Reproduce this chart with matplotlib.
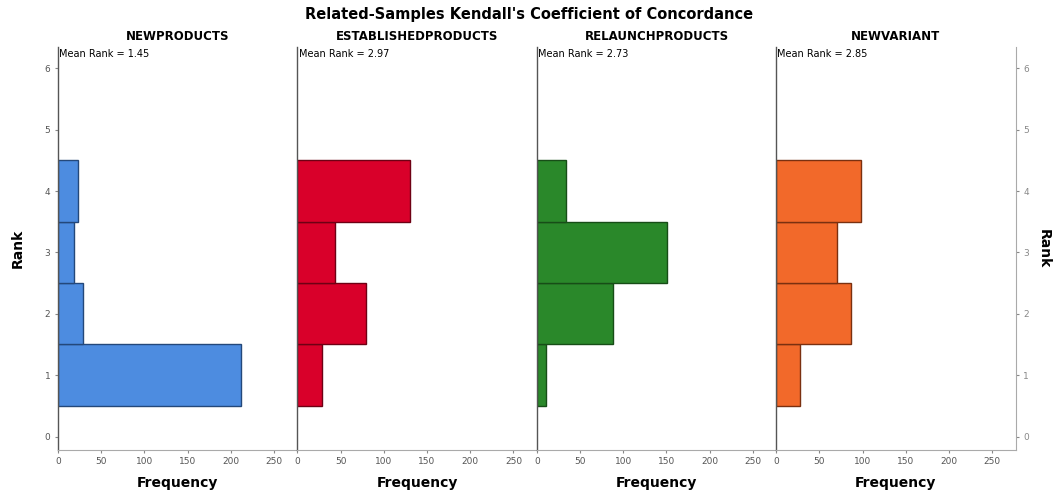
import matplotlib as mpl

mpl.use("Agg")
import matplotlib.pyplot as plt

# ranks 1..4 and frequency of each rank per variable
ranks = [1, 2, 3, 4]
panel_names = ["NEWPRODUCTS", "ESTABLISHEDPRODUCTS", "RELAUNCHPRODUCTS", "NEWVARIANT"]
mean_ranks = ["1.45", "2.97", "2.73", "2.85"]
freq_new = [212, 29, 19, 23]
freq_established = [29, 79, 43, 130]
freq_relaunch = [11, 88, 151, 34]
freq_variant = [27, 87, 70, 98]
bar_colors = ["#4d8ce0", "#d9002a", "#2a882a", "#f2692a"]
edge_colors = ["#24487a", "#6e0014", "#174d17", "#7a3010"]
x_ticks = [0, 50, 100, 150, 200, 250]
y_ticks = [0, 1, 2, 3, 4, 5, 6]

all_freqs = [freq_new, freq_established, freq_relaunch, freq_variant]

fig = plt.figure(figsize=(10.59, 5), dpi=100)
left, right, bottom, top = 0.0548, 0.959, 0.10, 0.906
w = (right - left) / 4

for i in range(4):
    ax = fig.add_axes([left + i * w, bottom, w, top - bottom])
    ax.barh(ranks, all_freqs[i], height=1.0, color=bar_colors[i],
            edgecolor=edge_colors[i], linewidth=1.0, zorder=2)
    ax.set_xlim(0, 277)
    ax.set_ylim(-0.22, 6.35)
    ax.set_xticks(x_ticks)
    ax.set_yticks(y_ticks)
    ax.tick_params(axis="x", labelsize=6.5, colors="#888888", length=2, pad=3)
    ax.tick_params(axis="y", labelsize=6.5, colors="#888888", length=2)
    for t in ax.get_xticklabels():
        t.set_color("#555555")
    for t in ax.get_yticklabels():
        t.set_color("#555555")
    ax.spines["top"].set_visible(False)
    ax.spines["left"].set_color("#555555")
    ax.spines["left"].set_linewidth(1.0)
    ax.spines["bottom"].set_color("#aaaaaa")
    ax.spines["bottom"].set_linewidth(0.8)
    if i == 3:
        ax.spines["right"].set_color("#aaaaaa")
        ax.spines["right"].set_linewidth(0.8)
        ax.yaxis.tick_right()
        ax.tick_params(axis="y", left=False, right=True)
        ax.yaxis.set_label_position("right")
        ax.set_ylabel("Rank", fontsize=10, fontweight="bold", rotation=270,
                      labelpad=16)
    else:
        ax.spines["right"].set_visible(False)
    if i == 0:
        ax.set_ylabel("Rank", fontsize=10, fontweight="bold", labelpad=14)
    else:
        if i != 3:
            ax.tick_params(axis="y", left=False, labelleft=False)
    ax.set_title(panel_names[i], fontsize=8.5, fontweight="bold", pad=5)
    ax.text(0.005, 0.995, "Mean Rank = " + mean_ranks[i], transform=ax.transAxes,
            fontsize=7, va="top", ha="left")
    ax.set_xlabel("Frequency", fontsize=10, fontweight="bold", labelpad=7)

fig.suptitle("Related-Samples Kendall's Coefficient of Concordance",
             fontsize=10.5, fontweight="bold", y=0.985)

plt.savefig("out.png", dpi=100)
